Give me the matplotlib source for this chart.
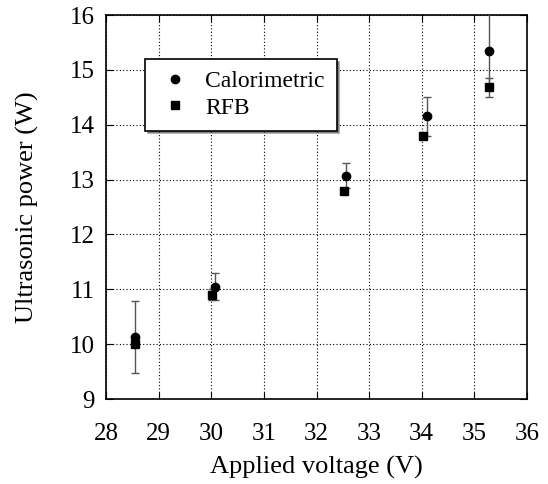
import matplotlib.pyplot as plt

plt.rcParams['font.family'] = ['Liberation Serif', 'DejaVu Serif']

# data
cal_x = [28.55, 30.07, 32.57, 34.1, 35.28]
cal_y = [10.13, 11.05, 13.07, 14.15, 15.35]
cal_err = [0.65, 0.25, 0.23, 0.35, 0.7]

rfb_x = [28.55, 30.02, 32.52, 34.02, 35.28]
rfb_y = [10.0, 10.9, 12.8, 13.8, 14.68]
rfb_err = [0.05, 0.1, 0.05, 0.05, 0.17]

x_ticks = list(range(28, 37))
y_ticks = list(range(9, 17))

fig = plt.figure(figsize=(5.48, 4.84), dpi=100)
ax = fig.add_axes([106 / 548, 1 - 399 / 484, 421 / 548, 384 / 484])

ax.errorbar(cal_x, cal_y, yerr=cal_err, fmt='o', color='black', ms=6,
            ecolor='#555555', elinewidth=1, capsize=3, label='Calorimetric', zorder=3)
ax.errorbar(rfb_x, rfb_y, yerr=rfb_err, fmt='s', color='black', ms=6,
            ecolor='#555555', elinewidth=1, capsize=3, label='RFB', zorder=3)

ax.set_xlim(28, 36)
ax.set_ylim(9, 16)
ax.set_xticks(x_ticks)
ax.set_yticks(y_ticks)
ax.grid(True, linestyle=(0, (1, 2)), color='black', linewidth=0.8)
ax.tick_params(direction='in', top=True, right=True, labelsize=18, length=5)
ax.tick_params(axis='x', pad=17)
ax.tick_params(axis='y', pad=8)
for s in ax.spines.values():
    s.set_linewidth(1.2)

ax.set_xlabel('Applied voltage (V)', fontsize=19, labelpad=8)
ax.set_ylabel('Ultrasonic power (W)', fontsize=19, labelpad=22)

handles, labels = ax.get_legend_handles_labels()
handles = [h[0] for h in handles]
leg = ax.legend(handles, labels, loc='upper left', bbox_to_anchor=(0.093, 0.885),
                fontsize=17, frameon=True, fancybox=False, shadow=True,
                edgecolor='black', handlelength=1.5, borderpad=0.5,
                labelspacing=0.2, handletextpad=0.55, borderaxespad=0)
leg.get_frame().set_linewidth(1.2)
leg.get_frame().set_alpha(1)

fig.savefig('out.png', dpi=100)
